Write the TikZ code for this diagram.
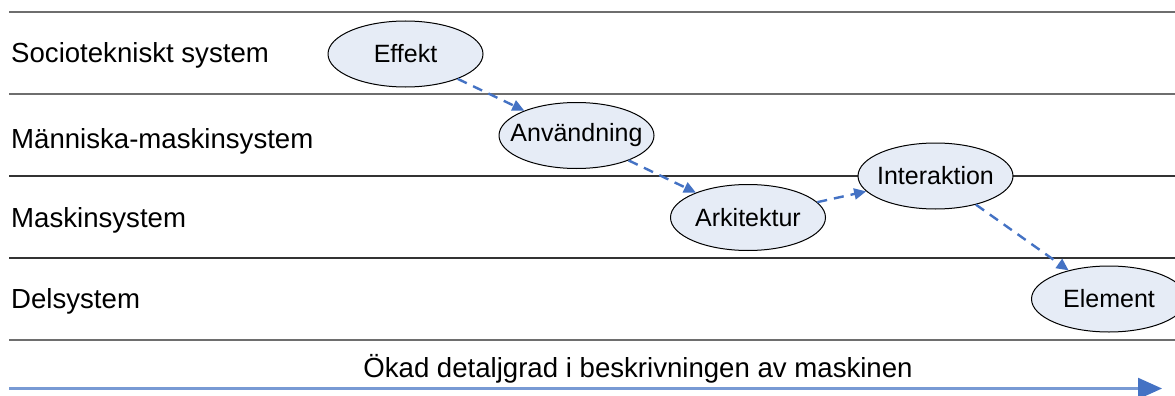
\documentclass[tikz,border=0pt]{standalone}
\usepackage{fontspec}
\setmainfont{Liberation Sans}
\usetikzlibrary{shapes.geometric,arrows.meta}
\definecolor{flowblue}{RGB}{68,114,196}
\definecolor{axisblue}{RGB}{120,154,212}
\definecolor{ovalfill}{RGB}{230,236,246}
\definecolor{rulegray}{RGB}{110,110,110}
\newcommand{\ovaltext}[1]{\makebox[0pt][c]{#1}}
\tikzset{
  level/.style={anchor=base west,inner sep=0pt,font=\fontsize{27.6}{32}\selectfont},
  oval/.style={ellipse,draw=black,line width=1pt,fill=ovalfill,
    minimum width=155pt,minimum height=66pt,inner sep=0pt,
    font=\fontsize{25}{30}\selectfont},
  divider/.style={line width=1.2pt,draw=black!80},
  flow/.style={draw=flowblue,line width=2.4pt,dash pattern=on 10pt off 7pt,
    -{Triangle[length=12pt,width=11pt]}},
}
\begin{document}
\begin{tikzpicture}[x=1pt,y=-1pt]
\clip (0,0) rectangle (1175,396);
\fill[white] (0,0) rectangle (1175,396);

% band boundaries
\draw[line width=1.2pt,draw=rulegray] (9,12) -- (1175,12);
\draw[line width=1.2pt,draw=rulegray] (9,94) -- (1175,94);
\draw[divider] (9,176) -- (1175,176);
\draw[divider] (9,258) -- (1175,258);
\draw[line width=2pt,draw=rulegray] (9,340) -- (1175,340);

% level names
\node[level] (l1) at (11,63) {Sociotekniskt system};
\node[level] (l2) at (11,148) {Människa-maskinsystem};
\node[level] (l3) at (11,227) {Maskinsystem};
\node[level] (l4) at (11,308) {Delsystem};

% description steps
\node[oval] (eff) at (405.5,54) {\ovaltext{Effekt}};
\node[oval] (anv) at (576.5,135.5) {\ovaltext{Användning}};
\node[oval] (ark) at (748,217.5) {\ovaltext{Arkitektur}};
\node[oval] (int) at (935.5,176) {\ovaltext{Interaktion}};
\node[oval] (ele) at (1109,299) {\ovaltext{Element}};

\draw[flow] (eff) -- (anv);
\draw[flow] (anv) -- (ark);
\draw[flow] (ark) -- (int);
\draw[flow] (int) -- (ele);

% detail axis
\node[level,anchor=base] (axl) at (638,377) {Ökad detaljgrad i beskrivningen av maskinen};
\coordinate (ax0) at (9,388.5);
\coordinate (ax1) at (1162,388.5);
\draw[draw=axisblue,line width=2.2pt,-{Triangle[length=24pt,width=21pt,color=flowblue]}] (ax0) -- (ax1);
\end{tikzpicture}
\end{document}
